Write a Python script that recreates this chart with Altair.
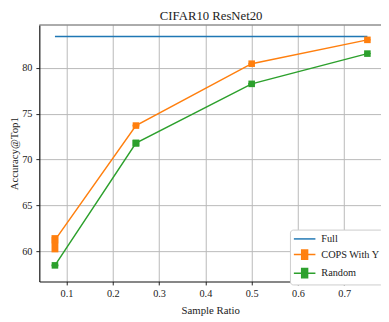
import altair as alt
import pandas as pd

# ---- data ----
chart_title = "CIFAR10 ResNet20"
series_names = ["Full", "COPS With Y", "Random"]
series_colors = ["#1f77b4", "#ff7f0e", "#2ca02c"]

full_ratio = [0.075, 0.75]
full_acc = [83.42, 83.42]

sample_ratio = [0.075, 0.25, 0.5, 0.75]
cops_acc = [61.2, 73.7, 80.45, 83.05]
cops_low = [59.87, 73.6, 80.4, 83.0]
cops_high = [61.75, 73.8, 80.5, 83.1]
rand_acc = [58.45, 71.8, 78.25, 81.55]
rand_low = [58.35, 71.4, 78.15, 81.5]
rand_high = [58.55, 72.15, 78.35, 81.6]

x_ticks = [0.1, 0.2, 0.3, 0.4, 0.5, 0.6, 0.7]
y_ticks = [60, 65, 70, 75, 80]

FONT = "Liberation Serif"
W, H = 349, 262

# legend symbol paths (line, or line + marker with error bar)
line_path = "M-1,0H3"
marker_path = "M-1,0H3M0.45,-1V1M0.725,-1V1M1,-1V1M1.275,-1V1M1.55,-1V1"
legend_paths = [line_path, marker_path, marker_path]

xscale = alt.Scale(domain=[0.04125, 0.7794], nice=False, zero=False)
yscale = alt.Scale(domain=[56.69, 84.67], nice=False, zero=False)

x_bottom = alt.X("ratio:Q", scale=xscale,
                 axis=alt.Axis(values=x_ticks, format=".1f", title="Sample Ratio"))
y_left = alt.Y("acc:Q", scale=yscale,
               axis=alt.Axis(values=y_ticks, format="d", title="Accuracy@Top1"))

# top spine of the frame and the chart title
frame_df = pd.DataFrame({"title": [chart_title]})
top_spine = alt.Chart(frame_df).mark_rule(
    color="#555555", strokeWidth=1
).encode(y=alt.value(0), x=alt.value(0), x2=alt.value(W))
title_text = alt.Chart(frame_df).mark_text(
    font=FONT, fontSize=13, color="#222222", align="center", baseline="alphabetic"
).encode(x=alt.value(W / 2 + 1), y=alt.value(-5), text="title:N")

full_df = pd.DataFrame({"ratio": full_ratio, "acc": full_acc})
full_line = alt.Chart(full_df).mark_line(
    color=series_colors[0], strokeWidth=1.5
).encode(x=x_bottom, y=y_left)

layers = [top_spine, title_text, full_line]
for name, color, acc, lo, hi in [
    (series_names[1], series_colors[1], cops_acc, cops_low, cops_high),
    (series_names[2], series_colors[2], rand_acc, rand_low, rand_high),
]:
    df = pd.DataFrame({"ratio": sample_ratio, "acc": acc, "lo": lo, "hi": hi})
    base = alt.Chart(df)
    line = base.mark_line(color=color, strokeWidth=1.5).encode(x=x_bottom, y=y_left)
    err = base.mark_rule(color=color, strokeWidth=7).encode(
        x=x_bottom, y=alt.Y("lo:Q", scale=yscale), y2="hi:Q")
    pts = base.mark_square(color=color, size=45, opacity=1).encode(x=x_bottom, y=y_left)
    layers += [line, err, pts]

legend_df = pd.DataFrame({"series": series_names})
leg = alt.Legend(title=None, orient="none", legendX=256, legendY=209,
                 symbolSize=121, symbolStrokeWidth=1.5, labelOffset=16,
                 rowPadding=2, padding=3, fillColor="white",
                 strokeColor="#cccccc", cornerRadius=3,
                 labelFont=FONT, labelFontSize=10.5, labelColor="#222222")
carrier = alt.Chart(legend_df).mark_point(
    filled=False, clip=True, size=121, strokeWidth=1.5, opacity=1
).encode(
    x=alt.value(-200), y=alt.value(100),
    color=alt.Color("series:N", scale=alt.Scale(domain=series_names, range=series_colors), legend=leg),
    shape=alt.Shape("series:N", scale=alt.Scale(domain=series_names, range=legend_paths), legend=leg),
)
layers.append(carrier)

chart = alt.layer(*layers).properties(
    width=W, height=H,
    padding={"left": 32, "top": 14, "right": 0, "bottom": 38},
    autosize=alt.AutoSizeParams(type="none"),
).configure_view(stroke=None).configure_axis(
    labelFont=FONT, labelFontSize=10.5, labelColor="#222222",
    titleFont=FONT, titleFontSize=11, titleFontWeight="normal", titleColor="#222222",
    tickColor="#222222", tickSize=3.5, tickWidth=1,
    domainColor="#111111", domainWidth=1.2,
    gridColor="#b8b8b8", gridWidth=1,
).configure_axisX(labelPadding=4, titlePadding=6).configure_axisY(
    labelPadding=4, titlePadding=2)

chart.save("out.html", embed_options={"renderer": "svg", "actions": False})
